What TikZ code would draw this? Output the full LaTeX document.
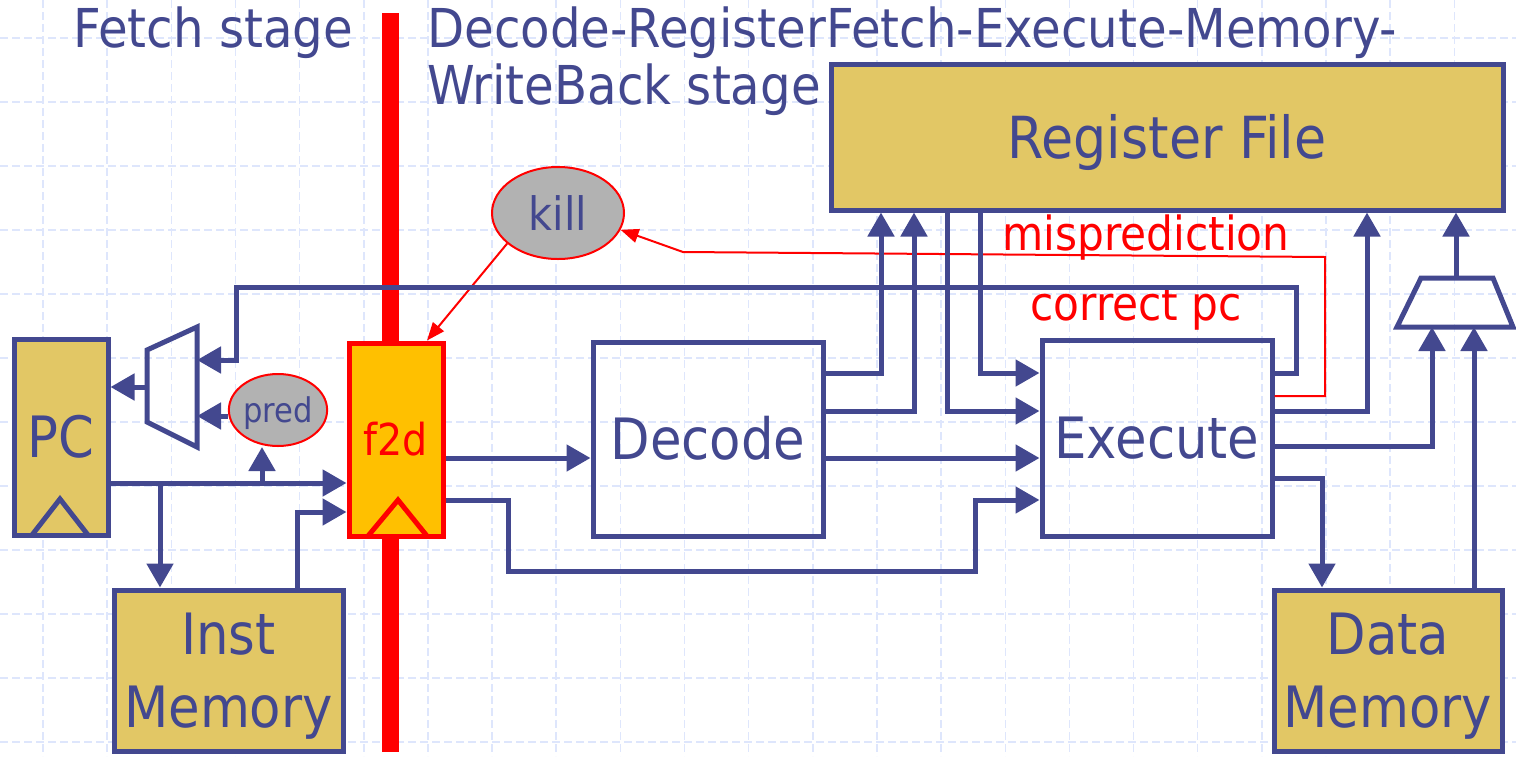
\documentclass[tikz,border=0pt]{standalone}
\usepackage{fontspec}
\setmainfont{DejaVu Sans Condensed}
\usetikzlibrary{arrows.meta,shapes.geometric}
\definecolor{navy}{RGB}{67,72,143}
\definecolor{gold}{RGB}{226,199,101}
\definecolor{amber}{RGB}{255,192,0}
\definecolor{killgray}{RGB}{178,178,178}
\definecolor{gridblue}{RGB}{222,230,252}
\pgfdeclarelayer{background}
\pgfsetlayers{background,main}
\tikzset{
  gridline/.style={draw=gridblue, line width=0.75pt, dash pattern=on 4pt off 2pt},
  wire/.style={draw=navy, line width=2.5pt, line join=miter},
  sig/.style={wire, -{Triangle[length=12pt,width=13pt]}},
  redwire/.style={draw=red, line width=1pt, line join=miter, -{Triangle[length=9pt,width=7pt]}},
  unit/.style={draw=navy, line width=2.5pt, text=navy, rectangle, inner sep=0pt,
    font=\fontsize{28.5}{36.5}\selectfont, align=center, text depth=0pt},
  oneline/.style={text height=20.8pt},
  store/.style={unit, fill=gold},
  latch/.style={draw=red, line width=2.5pt, fill=amber, text=red, rectangle, inner sep=0pt,
    font=\fontsize{22}{26}\selectfont, text height=16.3pt, text depth=0pt},
  bubble/.style={ellipse, draw=red, line width=1pt, fill=killgray, text=navy, inner sep=0pt},
  caption/.style={text=navy, inner sep=0pt, anchor=base west, font=\fontsize{26.8}{30}\selectfont},
  redcap/.style={text=red, inner sep=0pt, anchor=base west, font=\fontsize{23.5}{28}\selectfont},
  muxshape/.style={draw=navy, line width=2.5pt, line join=miter},
  clockmark/.style={line width=2.5pt, line join=miter},
}
\begin{document}
\begin{tikzpicture}[x=0.5pt, y=-0.5pt]
\useasboundingbox (0,0) rectangle (1516,756);

% background grid and stage separator
\begin{pgfonlayer}{background}
  \foreach \i in {0,...,23}
    \draw[gridline] ({43+64.15*\i},0) -- ({43+64.15*\i},756);
  \foreach \j in {0,...,11}
    \draw[gridline] (0,{38+64*\j}) -- (1516,{38+64*\j});
  \draw[red, line width=8.5pt] (390,13) -- (390,752);
\end{pgfonlayer}

% stage titles
\node[caption] (fetchlbl) at (73,47) {Fetch stage};
\node[caption] (restlbl1) at (427,47) {Decode-RegisterFetch-Execute-Memory-};
\node[caption] (restlbl2) at (427,104) {WriteBack stage};

% units
\node[store, oneline, minimum width=47pt, minimum height=98pt] (pc) at (61,437) {PC};
\node[store, minimum width=114.5pt, minimum height=80.5pt] (im) at (228.5,670.5) {Inst\\Memory};
\node[latch, minimum width=47pt, minimum height=96.5pt] (f2d) at (396,439.5) {f2d};
\node[unit, oneline, minimum width=115pt, minimum height=97pt] (dec) at (708,439) {Decode};
\node[unit, oneline, minimum width=115pt, minimum height=98pt] (exe) at (1157,438) {Execute};
\node[store, minimum width=336pt, minimum height=73pt, font=\fontsize{29}{36}\selectfont, text height=21.1pt] (rf) at (1167,137) {Register File};
\node[store, minimum width=114pt, minimum height=80.5pt] (dm) at (1388,670.5) {Data\\Memory};
\node[bubble, minimum width=66pt, minimum height=46pt, font=\fontsize{23}{27}\selectfont, text height=17pt, text depth=0pt] (kill) at (558,213) {kill};
\node[bubble, minimum width=45pt, minimum height=36pt, font=\fontsize{17}{20}\selectfont, text height=12.8pt, text depth=0pt] (pred) at (278,410) {pred};

% clock inputs
\draw[clockmark, navy] (32,535) -- (60,499) -- (88,535);
\draw[clockmark, red] (368,536) -- (398,500) -- (427,536);

% next-pc multiplexer
\draw[muxshape] (147,350) -- (197,327) -- (197,447) -- (147,422) -- cycle;
\coordinate (muxLout) at (147,387);
\coordinate (muxLin1) at (197,360);
\coordinate (muxLin2) at (197,416);

% write-back multiplexer
\draw[muxshape] (1421,278) -- (1493,278) -- (1513,327) -- (1397,327) -- cycle;
\coordinate (muxRout) at (1456,278);
\coordinate (muxRa) at (1432,327);
\coordinate (muxRb) at (1474,327);

% taps on the pc bus
\coordinate (tapIM) at (160,483);
\coordinate (tapPred) at (262,483);

% misprediction path
\draw[redwire] (exe.east |- 0,396) -- (1325,396) -- (1325,257) -- (683,252) -- (kill.-15);
\draw[redwire] (kill.211) -- (f2d.north -| 427,0);
\node[redcap] (mislbl) at (1002,250) {misprediction};
\node[redcap] (cpclbl) at (1030,320) {correct pc};

% fetch stage wiring
\draw[sig] (muxLout) -- (muxLout -| pc.east);
\draw[sig] (pred.west |- muxLin2) -- (muxLin2);
\draw[sig] (pc.east |- 0,483) -- (f2d.west |- 0,483);
\draw[sig] (tapIM) -- (im.north -| tapIM);
\draw[sig] (tapPred) -- (pred.south -| tapPred);
\draw[sig] (im.north -| 297,0) |- (f2d.west |- 0,512);

% correct pc back to the multiplexer
\draw[sig] (exe.east |- 0,373) -| (1296,287) -| (236,360) -- (muxLin1);

% decode and beyond
\draw[sig] (f2d.east |- 0,458) -- (dec.west |- 0,458);
\draw[sig] (f2d.east |- 0,500) -| (508,571) -| (975,500) -- (exe.west |- 0,500);
\draw[sig] (dec.east |- 0,373) -| (rf.south -| 881,0);
\draw[sig] (dec.east |- 0,411) -| (rf.south -| 914,0);
\draw[sig] (dec.east |- 0,458) -- (exe.west |- 0,458);
\draw[sig] (rf.south -| 947,0) |- (exe.west |- 0,411);
\draw[sig] (rf.south -| 980,0) |- (exe.west |- 0,373);
\draw[sig] (exe.east |- 0,411) -| (rf.south -| 1367,0);
\draw[sig] (exe.east |- 0,446) -| (muxRa);
\draw[sig] (exe.east |- 0,478) -| (dm.north -| 1322,0);
\draw[sig] (dm.north -| muxRb) -- (muxRb);
\draw[sig] (muxRout) -- (rf.south -| muxRout);
\end{tikzpicture}
\end{document}
